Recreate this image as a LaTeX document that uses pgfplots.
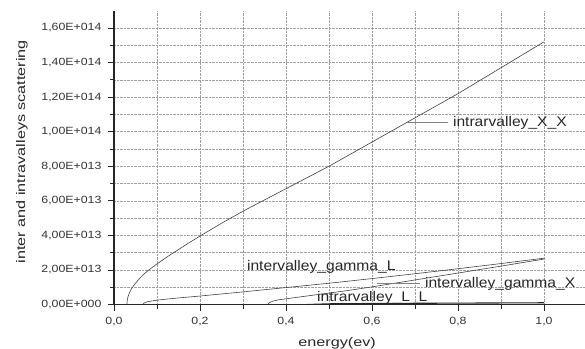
\documentclass[border=0pt]{standalone}
\usepackage{pgfplots}
\pgfplotsset{compat=1.18}
\usepackage{fontspec}
\setmainfont{Liberation Sans}
\newcommand\tl[1]{\scalebox{1.18}[1]{#1}}
\newcommand\cl[1]{\scalebox{1.12}[1]{#1}}
\newcommand\al[1]{\scalebox{1.3}[1]{#1}}
\begin{document}
\begin{tikzpicture}
\clip (-114bp,-44.5bp) rectangle (471bp,304.5bp);
\begin{axis}[
  at={(0,0)}, anchor=origin,
  scale only axis, width=473bp, height=293.8bp,
  xmin=0, xmax=1.1, ymin=0, ymax=17,
  axis x line=bottom, axis y line=left,
  axis line style={-, line width=1.1pt, black!85},
  xtick={0,0.2,0.4,0.6,0.8,1.0},
  xticklabels={{\tl{0,0}},{\tl{0,2}},{\tl{0,4}},{\tl{0,6}},{\tl{0,8}},{\tl{1,0}}},
  minor xtick={0.1,0.3,0.5,0.7,0.9},
  ytick={0,2,4,6,8,10,12,14,16},
  yticklabels={{\tl{0,00E+000}},{\tl{2,00E+013}},{\tl{4,00E+013}},{\tl{6,00E+013}},{\tl{8,00E+013}},{\tl{1,00E+014}},{\tl{1,20E+014}},{\tl{1,40E+014}},{\tl{1,60E+014}}},
  minor ytick={1,3,5,7,9,11,13,15},
  tick label style={font=\fontsize{10.5}{12}\selectfont, text=black!80},
  xticklabel style={yshift=-3bp},
  yticklabel style={xshift=-3bp},
  tick align=outside,
  major tick length=6bp, minor tick length=4bp,
  tick style={black!85, line width=0.8pt},
  grid=both,
  major grid style={densely dotted, gray!75, line width=0.5pt},
  minor grid style={densely dotted, gray!75, line width=0.5pt},
  clip=false,
]
% intrarvalley_X_X
\addplot[black!75, line width=0.6pt] coordinates {
(0.030,0) (0.031,0.28) (0.033,0.48) (0.036,0.68) (0.04,0.88) (0.045,1.07)
(0.05,1.23) (0.06,1.52) (0.07,1.77) (0.08,1.98) (0.1,2.35) (0.125,2.78)
(0.15,3.18) (0.175,3.58) (0.2,3.96) (0.25,4.7) (0.3,5.4) (0.35,6.05)
(0.4,6.7) (0.45,7.35) (0.5,8.0) (0.55,8.7) (0.6,9.4) (0.65,10.1) (0.7,10.8)
(0.75,11.5) (0.8,12.2) (0.85,12.95) (0.9,13.7) (0.95,14.45) (1.0,15.2)};
% intervalley_gamma_L
\addplot[black!75, line width=0.6pt] coordinates {
(0.068,0) (0.069,0.06) (0.071,0.1) (0.075,0.14) (0.08,0.17) (0.09,0.21)
(0.1,0.25) (0.125,0.32) (0.15,0.38) (0.2,0.49) (0.3,0.73) (0.4,0.98)
(0.5,1.23) (0.6,1.5) (0.7,1.78) (0.8,2.07) (0.9,2.37) (1.0,2.68)};
% intervalley_gamma_X
\addplot[black!75, line width=0.6pt] coordinates {
(0.358,0) (0.36,0.08) (0.363,0.13) (0.37,0.2) (0.38,0.26) (0.4,0.33)
(0.43,0.43) (0.46,0.53) (0.5,0.66) (0.55,0.83) (0.6,1.02) (0.7,1.42)
(0.8,1.82) (0.9,2.22) (1.0,2.63)};
% intrarvalley_L_L
\addplot[black!85, line width=1.1pt] coordinates {
(0.45,0) (0.5,0.04) (0.6,0.06) (0.7,0.07) (0.8,0.08) (0.9,0.09) (1.0,0.1)};
% leader lines and labels
\draw[gray, line width=1.2pt] (axis cs:0.681,10.52) -- (axis cs:0.777,10.52);
\node[anchor=west, inner sep=0, text=black!85, font=\fontsize{14}{16}\selectfont] at (axis cs:0.788,10.52) {\cl{intrarvalley\_X\_X}};
\draw[gray, line width=1.2pt] (axis cs:0.612,1.23) -- (axis cs:0.712,1.23);
\node[anchor=west, inner sep=0, text=black!85, font=\fontsize{14}{16}\selectfont] at (axis cs:0.723,1.2) {\cl{intervalley\_gamma\_X}};
\node[anchor=west, inner sep=0, text=black!85, font=\fontsize{14}{16}\selectfont] at (axis cs:0.309,2.17) {\cl{intervalley\_gamma\_L}};
\node[anchor=west, inner sep=0, text=black!85, font=\fontsize{14}{16}\selectfont] at (axis cs:0.472,0.4) {\cl{intrarvalley\_L\_L}};
% axis titles
\node[rotate=90, inner sep=0, text=black!85, font=\fontsize{12.5}{14}\selectfont] at ([xshift=-92bp]axis cs:0,8.85) {\al{inter and intravalleys scattering}};
\node[inner sep=0, text=black!85, font=\fontsize{12.5}{14}\selectfont] at ([yshift=-38.5bp]axis cs:0.519,0) {\al{energy(ev)}};
\end{axis}
\end{tikzpicture}
\end{document}
